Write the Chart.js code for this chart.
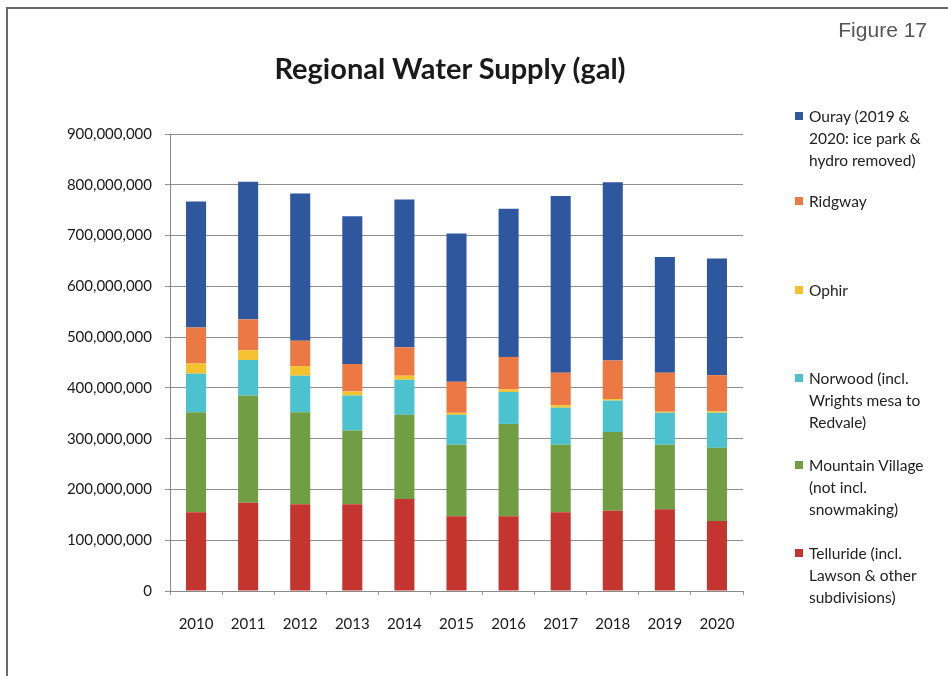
<!DOCTYPE html>
<html>
<head>
<meta charset="utf-8">
<script src="https://cdn.jsdelivr.net/npm/chart.js@4/dist/chart.umd.min.js"></script>
<style>
    body { margin: 0; background: #fff; overflow: hidden; }
    #wrap { position: relative; width: 948px; height: 676px; }
    #frame { position: absolute; left: 6px; top: 7px; width: 1000px; height: 720px; border: 2px solid #6a6a6a; box-sizing: border-box; }
    #figLabel { position: absolute; right: 21px; top: 18px; font: 21px "Liberation Sans", Arial, sans-serif; color: #555; }
    #title { position: absolute; left: 0; width: 900px; top: 50px; text-align: center; font: bold 29px Lato, sans-serif; color: #1a1a1a; }
    #legend { position: absolute; left: 0; top: 0; }
    .item { position: absolute; left: 795px; font: 15.5px Lato, sans-serif; color: #222; line-height: 22px; width: 150px; white-space: nowrap; }
    .item .box { position: absolute; left: 0; top: 7px; width: 8px; height: 8px; }
    .item .txt { margin-left: 14px; }
    canvas { position: absolute; left: 0; top: 0; }
</style>
</head>
<body>
<div id="wrap">
    <canvas id="chart" width="948" height="676"></canvas>
    <div id="frame"></div>
    <div id="figLabel">Figure 17</div>
    <div id="title">Regional Water Supply (gal)</div>
    <div id="legend"></div>
</div>
<script>
// Years on the x axis
const years = ['2010', '2011', '2012', '2013', '2014', '2015', '2016', '2017', '2018', '2019', '2020'];

// Gallons per year (millions)
const telluride = [155, 174, 171, 171, 181, 147, 147, 155, 158, 161, 138];
const mountainVillage = [197, 211, 181, 145, 166, 141, 182, 133, 155, 127, 144];
const norwood = [76, 70, 72, 69, 69, 59, 63, 73, 62, 63, 69];
const ophir = [20, 19, 19, 8, 8, 4, 5, 5, 3, 2, 3];
const ridgway = [71, 61, 50, 54, 56, 61, 64, 64, 76, 77, 71];
const ouray = [248, 271, 290, 291, 291, 292, 292, 348, 351, 228, 230];

const seriesNames = [
    'Telluride (incl. Lawson & other subdivisions)',
    'Mountain Village (not incl. snowmaking)',
    'Norwood (incl. Wrights mesa to Redvale)',
    'Ophir',
    'Ridgway',
    'Ouray (2019 & 2020: ice park & hydro removed)'
];
const seriesValues = [telluride, mountainVillage, norwood, ophir, ridgway, ouray];
const seriesColors = ['#c4352f', '#729e43', '#4cc2cf', '#f4c12f', '#ec7844', '#2f579e'];

// legend text breaks and vertical spots (top to bottom, Ouray first)
const legendLines = [
    ['Ouray (2019 &', '2020: ice park &', 'hydro removed)'],
    ['Ridgway'],
    ['Ophir'],
    ['Norwood (incl.', 'Wrights mesa to', 'Redvale)'],
    ['Mountain Village', '(not incl.', 'snowmaking)'],
    ['Telluride (incl.', 'Lawson & other', 'subdivisions)']
];
const legendTops = [105, 190, 279, 367, 454, 542];

const M = 1000000;

const datasets = seriesNames.map((name, i) => ({
    label: name,
    data: seriesValues[i].map(v => v * M),
    backgroundColor: seriesColors[i],
    borderWidth: 0,
    barPercentage: 0.385,
    categoryPercentage: 1
}));

const ctx = document.getElementById('chart').getContext('2d');
const chart = new Chart(ctx, {
    type: 'bar',
    data: { labels: years, datasets: datasets },
    options: {
        responsive: false,
        animation: false,
        devicePixelRatio: 1,
        layout: { padding: { left: 0, right: 205, top: 134, bottom: 35 } },
        plugins: {
            legend: { display: false },
            tooltip: { enabled: false }
        },
        scales: {
            x: {
                stacked: true,
                grid: { drawOnChartArea: false, tickLength: 4, color: '#9a9a9a', offset: true },
                border: { color: '#8a8a8a', width: 1 },
                ticks: { font: { family: 'Lato', size: 15 }, color: '#1a1a1a', padding: 20 },
                afterFit: (scale) => { scale.height = 50; }
            },
            y: {
                stacked: true,
                min: 0,
                max: 900 * M,
                grid: { color: '#8f8f8f', tickLength: 5 },
                border: { color: '#8a8a8a', width: 1 },
                ticks: {
                    stepSize: 100 * M,
                    font: { family: 'Lato', size: 15 },
                    color: '#1a1a1a',
                    padding: 13,
                    callback: (v) => v.toLocaleString('en-US')
                },
                afterFit: (scale) => { scale.width = 170; }
            }
        }
    }
});

// Build the legend on the right, Ouray at top
const legendEl = document.getElementById('legend');
for (let k = 0; k < legendLines.length; k++) {
    const idx = seriesNames.length - 1 - k;
    const item = document.createElement('div');
    item.className = 'item';
    item.style.top = legendTops[k] + 'px';
    const box = document.createElement('span');
    box.className = 'box';
    box.style.background = chart.data.datasets[idx].backgroundColor;
    const txt = document.createElement('div');
    txt.className = 'txt';
    txt.innerHTML = legendLines[k].map(s => s.replace(/&/g, '&amp;')).join('<br>');
    item.appendChild(box);
    item.appendChild(txt);
    legendEl.appendChild(item);
}
</script>
</body>
</html>
